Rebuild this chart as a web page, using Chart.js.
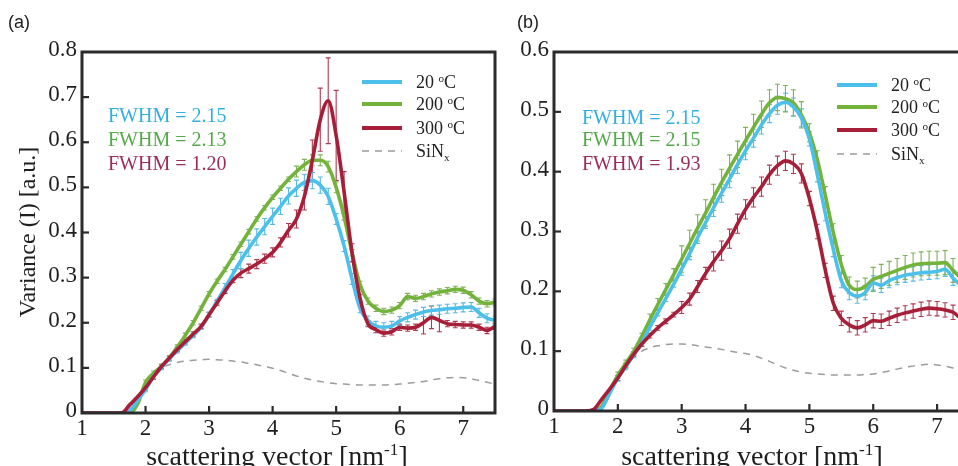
<!DOCTYPE html>
<html><head><meta charset="utf-8">
<script src="https://cdn.jsdelivr.net/npm/chart.js@4"></script>
<style>
html,body{margin:0;padding:0;background:#fff;width:958px;height:466px;overflow:hidden;position:relative}
canvas{position:absolute;top:0}
#ca{left:0}
#cb{left:490px}
</style></head><body>
<canvas id="ca" width="505" height="466"></canvas>
<canvas id="cb" width="490" height="466"></canvas>
<script>
// ---------- data ----------
const q = [1,1.125,1.25,1.375,1.5,1.625,1.75,1.875,2,2.125,2.25,2.375,2.5,2.625,2.75,2.875,3,3.125,3.25,3.375,3.5,3.625,3.75,3.875,4,4.125,4.25,4.375,4.5,4.625,4.75,4.875,5,5.125,5.25,5.375,5.5,5.625,5.75,5.875,6,6.125,6.25,6.375,6.5,6.625,6.75,6.875,7,7.125,7.25,7.375,7.5];
const xTicks = [1,2,3,4,5,6,7];
const yTicksA = [0,0.1,0.2,0.3,0.4,0.5,0.6,0.7,0.8];
const yTicksB = [0,0.1,0.2,0.3,0.4,0.5,0.6];
const seriesNames = ['20','200','300'];
const fwhmA = ['2.15','2.13','1.20'];
const fwhmB = ['2.15','2.15','1.93'];

// panel (a)
const a20  = [0,0,0,0,0,0,0.005,0.028,0.052,0.081,0.101,0.12,0.138,0.155,0.172,0.19,0.218,0.247,0.277,0.308,0.338,0.365,0.39,0.413,0.436,0.458,0.481,0.498,0.511,0.515,0.505,0.48,0.43,0.37,0.297,0.232,0.205,0.193,0.19,0.193,0.204,0.212,0.218,0.224,0.227,0.229,0.231,0.232,0.234,0.235,0.222,0.21,0.205];
const a200 = [0,0,0,0,0,0,0,0.02,0.068,0.088,0.103,0.122,0.146,0.172,0.2,0.232,0.264,0.292,0.318,0.346,0.374,0.402,0.43,0.455,0.478,0.498,0.518,0.535,0.55,0.56,0.56,0.546,0.5,0.435,0.355,0.285,0.248,0.232,0.225,0.228,0.238,0.258,0.254,0.258,0.264,0.268,0.271,0.274,0.272,0.262,0.248,0.242,0.246];
const a300 = [0,0,0,0,0,0,0.018,0.036,0.056,0.08,0.103,0.122,0.141,0.158,0.175,0.192,0.218,0.244,0.27,0.294,0.31,0.32,0.33,0.342,0.356,0.378,0.405,0.43,0.48,0.56,0.65,0.692,0.615,0.49,0.355,0.255,0.198,0.185,0.177,0.18,0.19,0.188,0.19,0.2,0.212,0.205,0.198,0.196,0.195,0.195,0.19,0.183,0.192];
const aSiN = [0,0,0,0,0,0,0.01,0.03,0.055,0.08,0.1,0.107,0.112,0.115,0.117,0.118,0.119,0.118,0.117,0.115,0.113,0.11,0.107,0.103,0.099,0.094,0.088,0.082,0.077,0.073,0.07,0.067,0.065,0.064,0.063,0.062,0.062,0.062,0.062,0.063,0.064,0.066,0.068,0.07,0.073,0.076,0.078,0.079,0.078,0.076,0.072,0.068,0.064];
const a20Err  = [0,0,0,0,0,0,0,0,0.005,0.005,0.005,0.005,0.005,0.005,0.005,0.005,0.005,0.005,0.01,0.01,0.018,0.018,0.018,0.018,0.018,0.018,0.018,0.018,0.018,0.018,0.018,0.018,0.012,0.012,0.012,0.01,0.01,0.01,0.01,0.01,0.01,0.01,0.01,0.01,0.01,0.01,0.01,0.01,0.01,0.01,0.01,0.01,0.01];
const a200Err = [0,0,0,0,0,0,0,0,0.005,0.005,0.005,0.005,0.005,0.005,0.005,0.005,0.005,0.005,0.005,0.005,0.005,0.005,0.005,0.005,0.005,0.005,0.005,0.012,0.012,0.012,0.012,0.012,0.012,0.007,0.007,0.007,0.007,0.007,0.007,0.007,0.007,0.007,0.007,0.007,0.007,0.007,0.007,0.007,0.007,0.007,0.007,0.007,0.007];
const a300Err = [0,0,0,0,0,0,0,0,0.005,0.005,0.005,0.005,0.005,0.005,0.005,0.005,0.005,0.005,0.005,0.005,0.01,0.01,0.01,0.01,0.01,0.01,0.015,0.02,0.03,0.045,0.07,0.095,0.1,0.045,0.02,0.007,0.007,0.007,0.007,0.007,0.007,0.007,0.007,0.025,0.025,0.025,0.007,0.007,0.007,0.007,0.007,0.007,0.007];

// panel (b)
const b20  = [0,0,0,0,0,0,0.005,0.03,0.055,0.074,0.094,0.114,0.14,0.164,0.188,0.212,0.237,0.263,0.29,0.315,0.34,0.364,0.388,0.412,0.435,0.456,0.478,0.497,0.511,0.516,0.508,0.49,0.455,0.395,0.33,0.27,0.218,0.198,0.192,0.198,0.214,0.21,0.218,0.223,0.227,0.229,0.231,0.232,0.233,0.237,0.222,0.21,0.2];
const b200 = [0,0,0,0,0,0,0.008,0.035,0.06,0.08,0.1,0.125,0.152,0.178,0.203,0.228,0.254,0.28,0.306,0.331,0.357,0.382,0.406,0.429,0.452,0.474,0.496,0.515,0.524,0.522,0.515,0.495,0.465,0.42,0.36,0.298,0.245,0.21,0.203,0.208,0.22,0.225,0.23,0.235,0.24,0.244,0.246,0.247,0.247,0.248,0.235,0.222,0.21];
const b300 = [0,0,0,0,0,0.003,0.02,0.037,0.055,0.076,0.095,0.112,0.126,0.139,0.15,0.161,0.173,0.187,0.208,0.23,0.25,0.268,0.288,0.313,0.337,0.357,0.375,0.395,0.41,0.418,0.413,0.397,0.355,0.3,0.235,0.18,0.155,0.144,0.139,0.144,0.151,0.15,0.155,0.16,0.164,0.167,0.17,0.172,0.171,0.169,0.165,0.155,0.148];
const bSiN = [0,0,0,0,0,0,0.01,0.03,0.055,0.075,0.09,0.1,0.106,0.109,0.111,0.112,0.112,0.111,0.109,0.107,0.105,0.103,0.1,0.098,0.096,0.093,0.088,0.083,0.077,0.072,0.068,0.065,0.063,0.062,0.061,0.06,0.06,0.06,0.06,0.061,0.062,0.064,0.067,0.07,0.073,0.075,0.077,0.078,0.077,0.075,0.072,0.068,0.064];
const b20Err  = [0,0,0,0,0,0,0,0,0.005,0.005,0.005,0.005,0.005,0.005,0.005,0.005,0.01,0.01,0.01,0.01,0.015,0.015,0.015,0.015,0.015,0.015,0.015,0.015,0.015,0.015,0.015,0.015,0.012,0.012,0.012,0.012,0.012,0.012,0.012,0.012,0.012,0.012,0.012,0.012,0.012,0.012,0.012,0.012,0.012,0.012,0.012,0.012,0.012];
const b200Err = [0,0,0,0,0,0,0,0,0.005,0.005,0.005,0.005,0.01,0.01,0.01,0.01,0.022,0.022,0.022,0.022,0.022,0.022,0.022,0.022,0.022,0.022,0.022,0.022,0.022,0.022,0.022,0.022,0.015,0.015,0.015,0.015,0.015,0.014,0.014,0.014,0.02,0.02,0.02,0.02,0.02,0.02,0.02,0.02,0.02,0.02,0.02,0.02,0.02];
const b300Err = [0,0,0,0,0,0,0,0,0.004,0.004,0.004,0.004,0.004,0.004,0.004,0.004,0.01,0.01,0.01,0.01,0.016,0.016,0.016,0.016,0.016,0.016,0.016,0.016,0.016,0.016,0.016,0.016,0.012,0.012,0.012,0.012,0.012,0.012,0.012,0.012,0.012,0.012,0.012,0.012,0.012,0.012,0.012,0.012,0.012,0.012,0.012,0.012,0.012];

// ---------- styles ----------
const SERIF = '"Liberation Serif","Times New Roman",serif';
const LINEC = {blue:'#4cc0eb', green:'#74b33b', red:'#a61e37', grey:'#9c9c9c'};
const ERRC  = {blue:'#5ab9e2', green:'#7fb15a', red:'#ad3a52'};
const TEXTC = {blue:'#32afe0', green:'#55a94a', red:'#9b2d5b'};
const AXC = '#2b2b2b';

function pts(vals){ return q.map((x,i)=>({x:x, y:vals[i]})); }

function drawRich(ctx, x, baseY, parts, size, color, align){
  ctx.fillStyle = color;
  ctx.textBaseline = 'alphabetic';
  ctx.textAlign = 'left';
  const meas = parts.map(([t,k])=>{
    const s = k==='n' ? size : size*0.62;
    ctx.font = s+'px '+SERIF;
    return {t, k, s, w: ctx.measureText(t).width};
  });
  const total = meas.reduce((a,m)=>a+m.w,0);
  let cx = align==='center' ? x - total/2 : x;
  meas.forEach(m=>{
    const dy = m.k==='sup' ? -size*0.36 : (m.k==='sub' ? size*0.2 : 0);
    ctx.font = m.s+'px '+SERIF;
    ctx.fillText(m.t, cx, baseY+dy);
    cx += m.w;
  });
}

const errPlugin = {
  id:'errbars',
  beforeDatasetsDraw(chart){
    const {ctx, chartArea:ca, scales} = chart;
    const xs = scales.x, ys = scales.y;
    ctx.save();
    ctx.beginPath(); ctx.rect(ca.left, ca.top, ca.right-ca.left, ca.bottom-ca.top); ctx.clip();
    chart.data.datasets.forEach(ds=>{
      if(!ds.err) return;
      ctx.strokeStyle = ds.errColor; ctx.lineWidth = 1.1;
      ds.data.forEach((p,i)=>{
        const e = ds.err[i]; if(!e) return;
        const px = xs.getPixelForValue(p.x);
        const y1 = ys.getPixelForValue(p.y+e), y2 = ys.getPixelForValue(p.y-e);
        ctx.beginPath();
        ctx.moveTo(px,y1); ctx.lineTo(px,y2);
        ctx.moveTo(px-2.5,y1); ctx.lineTo(px+2.5,y1);
        ctx.moveTo(px-2.5,y2); ctx.lineTo(px+2.5,y2);
        ctx.stroke();
      });
    });
    ctx.restore();
  }
};

const framePlugin = {
  id:'frame',
  afterDatasetsDraw(chart){
    const {ctx, chartArea:ca, scales} = chart;
    ctx.save();
    ctx.strokeStyle = AXC; ctx.lineWidth = 3;
    ctx.strokeRect(ca.left, ca.top, ca.right-ca.left, ca.bottom-ca.top);
    ctx.lineWidth = 2.2;
    scales.x.ticks.forEach(t=>{
      const px = scales.x.getPixelForValue(t.value);
      if (px <= ca.left+2 || px >= ca.right-2) return;
      ctx.beginPath(); ctx.moveTo(px, ca.bottom); ctx.lineTo(px, ca.bottom-7); ctx.stroke();
    });
    scales.y.ticks.forEach(t=>{
      const py = scales.y.getPixelForValue(t.value);
      if (py >= ca.bottom-2 || py <= ca.top+2) return;
      ctx.beginPath(); ctx.moveTo(ca.left, py); ctx.lineTo(ca.left+7, py); ctx.stroke();
    });
    ctx.restore();
  }
};

const textPlugin = {
  id:'texts',
  afterDraw(chart){
    const o = chart.options.plugins.texts;
    const ctx = chart.ctx;
    ctx.save();
    // panel label
    ctx.font = '18px "Liberation Sans",Arial,sans-serif';
    ctx.fillStyle = '#222'; ctx.textBaseline = 'middle'; ctx.textAlign = 'left';
    ctx.fillText(o.panel, o.panelX, 23);
    // FWHM labels
    const tc = [TEXTC.blue, TEXTC.green, TEXTC.red];
    o.fwhm.forEach((f,i)=>{
      drawRich(ctx, o.fwhmX, o.fwhmY[i]+7, [['FWHM = '+f,'n']], 20, tc[i], 'left');
    });
    // legend
    const lc = [LINEC.blue, LINEC.green, LINEC.red];
    seriesNames.forEach((n,i)=>{
      ctx.strokeStyle = lc[i]; ctx.lineWidth = 4; ctx.setLineDash([]);
      ctx.beginPath(); ctx.moveTo(o.legX, o.legY[i]); ctx.lineTo(o.legX+40, o.legY[i]); ctx.stroke();
      drawRich(ctx, o.legX+54, o.legY[i]+6, [[n+' ','n'],['o','sup'],['C','n']], 18, '#222', 'left');
    });
    ctx.strokeStyle = LINEC.grey; ctx.lineWidth = 1.5; ctx.setLineDash([7,6]);
    ctx.beginPath(); ctx.moveTo(o.legX, o.legY[3]); ctx.lineTo(o.legX+40, o.legY[3]); ctx.stroke();
    ctx.setLineDash([]);
    drawRich(ctx, o.legX+54, o.legY[3]+6, [['SiN','n'],['x','sub']], 18, '#222', 'left');
    // axis titles
    drawRich(ctx, o.xTitleX, 465, [['scattering vector [nm','n'],['-1','sup'],[']','n']], 28, '#1e1e1e', 'center');
    if (o.yTitle){
      ctx.translate(27, 232); ctx.rotate(-Math.PI/2);
      drawRich(ctx, 0, 8, [[o.yTitle,'n']], 24, '#1e1e1e', 'center');
    }
    ctx.restore();
  }
};

function makeChart(id, series, errs, yMax, yTicks, padRight, yWidth, xHeight, texts){
  const colors = [LINEC.red, LINEC.blue, LINEC.green];
  const ecol = [ERRC.red, ERRC.blue, ERRC.green];
  const order = [2,0,1]; // red on top, then blue, then green
  const datasets = order.map((si,k)=>({
    data: pts(series[si]), err: errs[si], errColor: ecol[k],
    borderColor: colors[k], borderWidth: 3.6, pointRadius: 0,
    cubicInterpolationMode: 'monotone', fill: false
  }));
  datasets.push({
    data: pts(series[3]), borderColor: LINEC.grey, borderWidth: 1.5,
    borderDash: [7,6], pointRadius: 0, cubicInterpolationMode: 'monotone', fill: false
  });
  return new Chart(document.getElementById(id), {
    type: 'line',
    data: { datasets },
    options: {
      responsive: false, animation: false, devicePixelRatio: 1,
      layout: { padding: { left: 0, top: 52, right: padRight, bottom: 0 } },
      plugins: { legend: {display:false}, tooltip: {enabled:false}, texts },
      scales: {
        x: {
          type: 'linear', min: 1, max: 7.5,
          grid: {display:false, drawTicks:false}, border: {display:false},
          afterBuildTicks: s => { s.ticks = xTicks.map(v=>({value:v})); },
          afterFit: s => { s.height = xHeight; },
          ticks: { font: {family: SERIF, size: 23}, color: '#1e1e1e', padding: 2, maxRotation: 0, autoSkip: false,
                   callback: v => String(v) }
        },
        y: {
          min: 0, max: yMax,
          grid: {display:false, drawTicks:false}, border: {display:false},
          afterBuildTicks: s => { s.ticks = yTicks.map(v=>({value:v})); },
          afterFit: s => { s.width = yWidth; },
          ticks: { font: {family: SERIF, size: 23}, color: '#1e1e1e', padding: 5, autoSkip: false, labelOffset: -2,
                   callback: v => v === 0 ? '0' : v.toFixed(1) }
        }
      }
    },
    plugins: [errPlugin, framePlugin, textPlugin]
  });
}

makeChart('ca', [a20, a200, a300, aSiN], [a20Err, a200Err, a300Err], 0.8, yTicksA, 10, 82, 53, {
  panel: '(a)', panelX: 8,
  fwhm: fwhmA, fwhmX: 108, fwhmY: [115, 139, 163],
  legX: 362, legY: [82, 104, 128, 151],
  xTitleX: 277, yTitle: 'Variance (I) [a.u.]'
});
makeChart('cb', [b20, b200, b300, bSiN], [b20Err, b200Err, b300Err], 0.6, yTicksB, 11, 64, 55, {
  panel: '(b)', panelX: 27,
  fwhm: fwhmB, fwhmX: 92, fwhmY: [117, 139, 163],
  legX: 347, legY: [85, 107, 130, 154],
  xTitleX: 262, yTitle: null
});
</script>
</body></html>
